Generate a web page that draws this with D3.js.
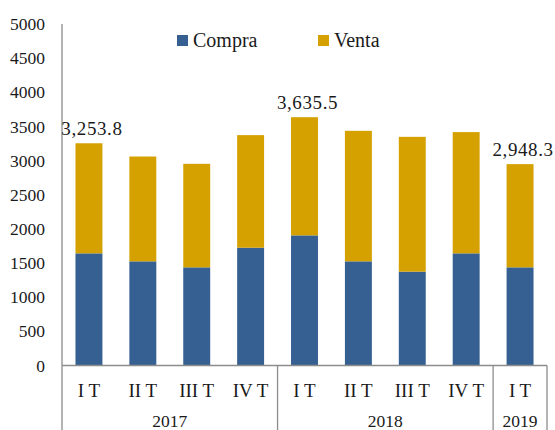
<!DOCTYPE html>
<html>
<head>
<meta charset="utf-8">
<script src="https://cdn.jsdelivr.net/npm/d3@7"></script>
<style>
  html, body { margin: 0; padding: 0; background: #fff; }
  svg { display: block; }
  svg text { font-family: "Liberation Serif", "DejaVu Serif", serif !important; fill: #1a1a1a; }
</style>
</head>
<body>
<svg id="chart" width="555" height="430"></svg>
<script>
const quarters = ["I T", "II T", "III T", "IV T", "I T", "II T", "III T", "IV T", "I T"];
const years = ["2017", "2017", "2017", "2017", "2018", "2018", "2018", "2018", "2019"];
const compra = [1642, 1525, 1437, 1725, 1905, 1525, 1374, 1642, 1437];
const venta = [1611.8, 1535, 1516, 1648, 1730.5, 1911, 1974, 1775, 1511.3];
const totalLabels = ["3,253.8", null, null, null, "3,635.5", null, null, null, "2,948.3"];
const yTicks = [0, 500, 1000, 1500, 2000, 2500, 3000, 3500, 4000, 4500, 5000];
const seriesNames = ["Compra", "Venta"];
const colors = ["#366092", "#D4A100"];

const FONT = "'Liberation Serif', 'DejaVu Serif', serif";
const svg = d3.select("#chart");
const mLeft = 62, mRight = 547, mTop = 24, mBottom = 365.5;

const idx = d3.range(quarters.length);
const x = d3.scaleBand().domain(idx).range([mLeft, mRight]).paddingInner(0.5).paddingOuter(0.25);
const y = d3.scaleLinear().domain([0, 5000]).range([mBottom, mTop]);

const rows = idx.map(i => ({ i, Compra: compra[i], Venta: venta[i] }));
const stacked = d3.stack().keys(seriesNames)(rows);

// bars
svg.append("g").selectAll("g").data(stacked).join("g")
  .attr("fill", (d, k) => colors[k])
  .selectAll("rect").data(d => d).join("rect")
  .attr("x", d => x(d.data.i))
  .attr("width", x.bandwidth())
  .attr("y", d => y(d[1]))
  .attr("height", d => y(d[0]) - y(d[1]));

// y axis
const yAxis = svg.append("g").attr("transform", `translate(${mLeft},0)`)
  .call(d3.axisLeft(y).tickValues(yTicks).tickSize(0).tickPadding(17).tickFormat(d3.format("d")));
yAxis.attr("font-family", FONT);
yAxis.select(".domain").remove();
yAxis.selectAll("text").attr("font-family", FONT).style("font-size", "17.5px").attr("fill", "#1a1a1a");

const axisColor = "#8c8c8c";
svg.append("line").attr("x1", mLeft).attr("x2", mLeft).attr("y1", mTop).attr("y2", 430)
  .attr("stroke", axisColor).attr("stroke-width", 1.3);
svg.append("line").attr("x1", mLeft).attr("x2", mRight).attr("y1", mBottom).attr("y2", mBottom)
  .attr("stroke", axisColor).attr("stroke-width", 1.3);

// quarter labels
svg.append("g").selectAll("text").data(idx).join("text")
  .attr("x", i => x(i) + x.bandwidth() / 2)
  .attr("y", 397)
  .attr("text-anchor", "middle")
  .attr("font-family", FONT)
  .style("font-size", "19px")
  .text(i => quarters[i]);

// year groups
const step = x.step();
const yearGroups = d3.groups(idx, i => years[i]).map(([yr, is], k, arr) => {
  const a = k === 0 ? mLeft : x(d3.min(is)) - x.paddingInner() * step / 2;
  const b = k === arr.length - 1 ? mRight : x(d3.max(is)) + x.bandwidth() + x.paddingInner() * step / 2;
  return { yr, a, b };
});
yearGroups.forEach((g, k) => {
  if (k > 0) {
    svg.append("line").attr("x1", g.a).attr("x2", g.a).attr("y1", mBottom).attr("y2", 430)
      .attr("stroke", axisColor).attr("stroke-width", 1.3);
  }
});
svg.append("line").attr("x1", mRight).attr("x2", mRight).attr("y1", mBottom).attr("y2", 430)
  .attr("stroke", axisColor).attr("stroke-width", 1.3);
svg.append("g").selectAll("text").data(yearGroups).join("text")
  .attr("x", g => (g.a + g.b) / 2)
  .attr("y", 427)
  .attr("text-anchor", "middle")
  .attr("font-family", FONT)
  .style("font-size", "17.5px")
  .text(g => g.yr);

// total labels
svg.append("g").selectAll("text").data(idx.filter(i => totalLabels[i])).join("text")
  .attr("x", i => x(i) + x.bandwidth() / 2 + 3)
  .attr("y", i => y(compra[i] + venta[i]) - 8)
  .attr("text-anchor", "middle")
  .attr("font-family", FONT)
  .style("font-size", "19px")
  .style("letter-spacing", "0.6px")
  .text(i => totalLabels[i]);

// legend
const legend = svg.append("g");
const legendItems = [{ name: "Compra", x: 177 }, { name: "Venta", x: 318 }];
legendItems.forEach((it, k) => {
  legend.append("rect").attr("x", it.x).attr("y", 35).attr("width", 11).attr("height", 11).attr("fill", colors[k]);
  legend.append("text").attr("x", it.x + 16).attr("y", 47).attr("font-family", FONT)
    .style("font-size", "20px").text(it.name);
});
</script>
</body>
</html>
